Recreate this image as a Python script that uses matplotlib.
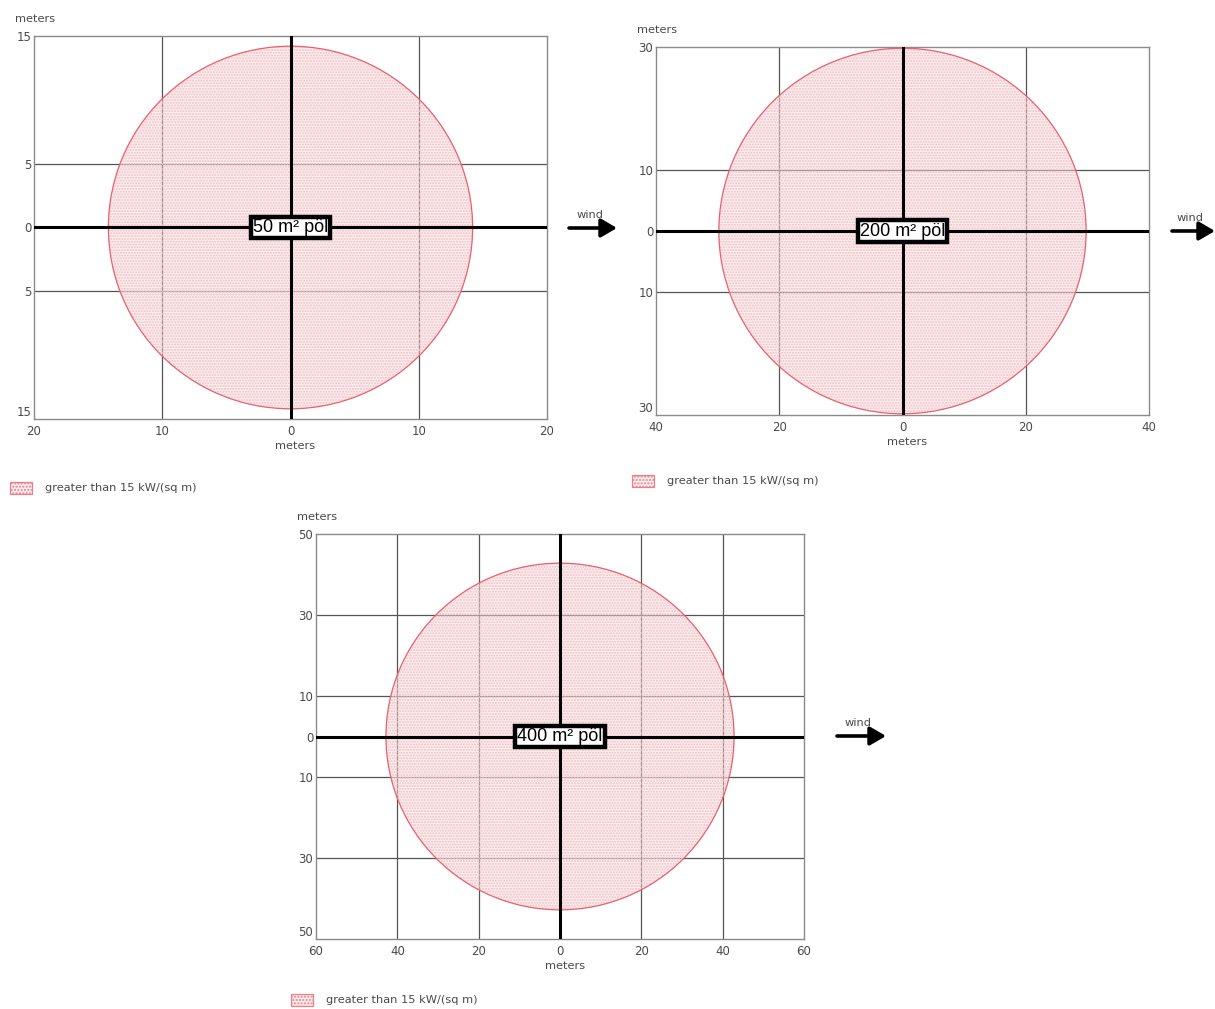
import matplotlib
matplotlib.use("Agg")
import matplotlib.pyplot as plt
from matplotlib.patches import Circle, Rectangle, FancyArrowPatch

# ---- data ----
pool_labels = ["50 m\u00b2 p\u00f6l", "200 m\u00b2 p\u00f6l", "400 m\u00b2 p\u00f6l"]
zone_radius = [14.2, 29.8, 42.8]          # meters, > 15 kW/(sq m)
x_limits = [20, 40, 60]
y_limits = [15, 30, 50]
x_ticks = [[-20, -10, 0, 10, 20], [-40, -20, 0, 20, 40], [-60, -40, -20, 0, 20, 40, 60]]
y_ticks = [[-15, -5, 0, 5, 15], [-30, -10, 0, 10, 30], [-50, -30, -10, 0, 10, 30, 50]]
legend_text = "greater than 15 kW/(sq m)"

W, H = 1215, 1009
fig = plt.figure(figsize=(W / 100, H / 100), dpi=100)

def px_axes(l, t, r, b):
    return fig.add_axes([l / W, 1 - b / H, (r - l) / W, (b - t) / H])

boxes = [(34, 36, 547, 419), (656, 47, 1149, 415), (316, 534, 804, 939)]
wind = [(569, 617, 228), (1172, 1215, 231), (837, 886, 736)]
legend_pos = [(10, 488), (632, 481), (291, 1000)]

tick_color = "#4a4a4a"
fs_tick = 8.5
fs = 8.2

for i in range(3):
    l, t, r, b = boxes[i]
    ax = px_axes(l, t, r, b)
    xl, yl = x_limits[i], y_limits[i]
    ax.set_xlim(-xl, xl)
    ax.set_ylim(-yl, yl)
    ax.set_xticks(x_ticks[i])
    ax.set_xticklabels([str(abs(v)) for v in x_ticks[i]])
    ax.set_yticks(y_ticks[i])
    ax.set_yticklabels([str(abs(v)) for v in y_ticks[i]])
    ax.tick_params(length=0, labelsize=fs_tick, colors=tick_color)
    ax.tick_params(axis="x", pad=4)
    ax.tick_params(axis="y", pad=2)
    ax.get_yticklabels()[0].set_verticalalignment("bottom")
    for s in ax.spines.values():
        s.set_color("#8a8a8a")
        s.set_linewidth(1.0)
    # grid lines
    for v in x_ticks[i]:
        if v != 0 and abs(v) != xl:
            ax.axvline(v, color="#555555", lw=0.9, zorder=1)
    for v in y_ticks[i]:
        if v != 0 and abs(v) != yl:
            ax.axhline(v, color="#555555", lw=0.9, zorder=1)
    # zone
    ax.add_patch(Circle((0, 0), zone_radius[i], facecolor="#fadadd", alpha=0.45,
                        lw=0, zorder=2))
    ax.add_patch(Circle((0, 0), zone_radius[i], facecolor="none",
                        edgecolor="#efc0c6", hatch="......", lw=0, zorder=2.5))
    ax.add_patch(Circle((0, 0), zone_radius[i], facecolor="none",
                        edgecolor="#e8606e", lw=0.9, zorder=3))
    ax.axvline(0, color="black", lw=2.2, zorder=4)
    ax.axhline(0, color="black", lw=2.2, zorder=4)
    ax.text(0, 0, pool_labels[i], ha="center", va="center", fontsize=13,
            family="Liberation Sans", zorder=6,
            bbox=dict(boxstyle="square,pad=0.12", fc="white", ec="black", lw=3.2))
    # axis labels
    fig.text((l - 19) / W, 1 - (t - 17) / H, "meters", fontsize=fs,
             color=tick_color, ha="left", va="center")
    fig.text(((l + r) / 2 + 5) / W, 1 - (b + 27) / H, "meters", fontsize=fs,
             color=tick_color, ha="center", va="center")
    # wind arrow
    x0, x1, yy = wind[i]
    fig.add_artist(FancyArrowPatch(
        (x0 / W, 1 - yy / H), (x1 / W, 1 - yy / H), transform=fig.transFigure,
        arrowstyle="-|>,head_length=6,head_width=3.5", mutation_scale=1.6,
        color="black", lw=2.6, shrinkA=0, shrinkB=0))
    fig.text(((x0 + x1) / 2 - 3) / W, 1 - (yy - 13) / H, "wind", fontsize=fs,
             color=tick_color, ha="center", va="center")
    # legend
    lx, ly = legend_pos[i]
    fig.add_artist(Rectangle((lx / W, 1 - (ly + 6) / H), 22 / W, 12 / H,
                             transform=fig.transFigure, facecolor="#fdeef0",
                             edgecolor="#e8808c", lw=0.9, hatch="....."))
    fig.text((lx + 35) / W, 1 - ly / H, legend_text, fontsize=fs,
             color=tick_color, ha="left", va="center")

fig.savefig("out.png", dpi=100)
